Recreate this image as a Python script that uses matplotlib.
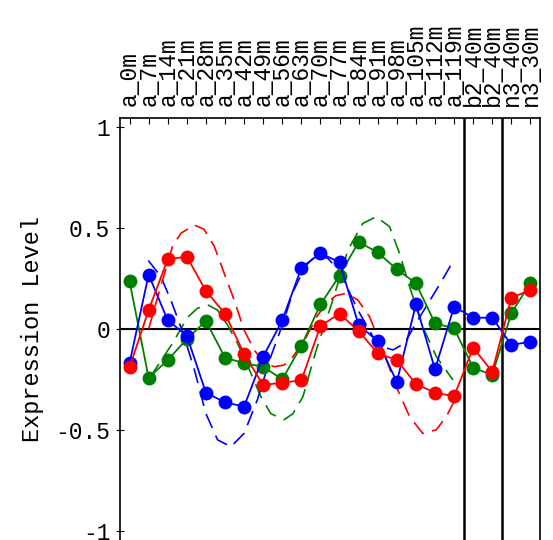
# expression level plot of three clusters with fitted curves
import matplotlib
matplotlib.use('Agg')
import matplotlib.pyplot as plt

plt.rcParams['font.family'] = ['Liberation Mono', 'DejaVu Sans Mono']
plt.rcParams['lines.scale_dashes'] = False

sampleLabels = ['a_0m', 'a_7m', 'a_14m', 'a_21m', 'a_28m', 'a_35m', 'a_42m', 'a_49m',
                'a_56m', 'a_63m', 'a_70m', 'a_77m', 'a_84m', 'a_91m', 'a_98m', 'a_105m',
                'a_112m', 'a_119m', 'b2_40m', 'b2_40m', 'n3_40m', 'n3_30m']

blueLevels = [-0.17, 0.27, 0.043, -0.033, -0.316, -0.364, -0.385, -0.137, 0.043, 0.304, 0.376,
              0.331, 0.02, -0.06, -0.263, 0.122, -0.2, 0.111, 0.056, 0.056, -0.079, -0.063]
redLevels = [-0.19, 0.094, 0.346, 0.359, 0.189, 0.076, -0.124, -0.278, -0.266, -0.255, 0.015,
             0.076, -0.01, -0.121, -0.154, -0.273, -0.316, -0.334, -0.093, -0.212, 0.155, 0.194]
greenLevels = [0.237, -0.242, -0.154, -0.05, 0.04, -0.142, -0.17, -0.187, -0.25, -0.083, 0.122,
               0.265, 0.432, 0.38, 0.296, 0.227, 0.028, 0.003, -0.192, -0.228, 0.078, 0.23]

# fitted curves (x in sample index units)
blueFitX = [0.98, 1.64, 2.16, 2.78, 3.39, 4.0, 4.61, 5.31, 6.0, 6.7, 7.4, 8.1, 8.54, 9.2, 9.8,
            10.4, 11.0, 11.96, 12.75, 13.3, 13.8, 14.4, 15.0, 16.07, 16.94]
blueFitY = [0.34, 0.26, 0.144, -0.013, -0.2, -0.42, -0.55, -0.584, -0.518, -0.35, -0.137, 0.045,
            0.18, 0.31, 0.37, 0.35, 0.284, 0.094, -0.038, -0.09, -0.104, -0.071, 0.028, 0.194, 0.334]
redFitX = [1.0, 1.6, 2.25, 2.69, 3.39, 3.9, 4.44, 4.96, 5.48, 6.0, 6.53, 7.06, 7.58, 8.1, 8.56,
           9.2, 9.8, 10.3, 10.8, 11.35, 11.96, 12.57, 13.27, 13.97, 14.67, 15.36, 16.07, 16.59, 17.0]
redFitY = [0.0, 0.2, 0.41, 0.475, 0.516, 0.495, 0.41, 0.276, 0.144, -0.005, -0.104, -0.17, -0.187,
           -0.179, -0.137, -0.05, 0.06, 0.127, 0.165, 0.177, 0.144, 0.061, -0.104, -0.286, -0.435,
           -0.518, -0.5, -0.435, -0.36]
greenFitX = [1.1, 1.7, 2.25, 3.04, 3.56, 4.09, 4.61, 5.13, 5.66, 6.36, 6.88, 7.4, 8.1, 8.56, 9.08,
             9.78, 10.65, 11.44, 12.22, 12.92, 13.62, 14.14, 14.67, 15.36, 16.07, 16.94]
greenFitY = [-0.237, -0.15, -0.071, 0.058, 0.103, 0.12, 0.094, 0.02, -0.071, -0.22, -0.336, -0.42,
             -0.45, -0.42, -0.336, -0.104, 0.144, 0.392, 0.524, 0.557, 0.508, 0.375, 0.21, 0.011,
             -0.137, -0.253]

yTicks = [-1, -0.5, 0, 0.5, 1]
yTickLabels = ['-1', '-0.5', '0', '0.5', '1']
groupBreaks = [17.5, 19.5]

fig = plt.figure(figsize=(5.53, 5.40), dpi=100)
ax = fig.add_axes([120 / 553, 0.0, 420 / 553, 422 / 540])

xPos = list(range(len(sampleLabels)))

ax.axhline(0, color='black', lw=1.5, zorder=1)
for b in groupBreaks:
    ax.axvline(b, color='black', lw=1.8, zorder=1)

series = [(greenLevels, greenFitX, greenFitY, 'green'),
          (blueLevels, blueFitX, blueFitY, 'blue'),
          (redLevels, redFitX, redFitY, 'red')]
for levels, fx, fy, col in series:
    ax.plot(fx, fy, color=col, lw=1.2, dashes=(11, 6), zorder=2)
    ax.plot(xPos, levels, color=col, lw=1.3, marker='o', markersize=10,
            markeredgewidth=0, zorder=3)

ax.set_xlim(-0.5, 21.5)
ax.set_ylim(-1.047, 1.047)

ax.xaxis.tick_top()
ax.set_xticks(xPos)
ax.set_xticklabels(sampleLabels, rotation=90, fontsize=16.5)
ax.tick_params(axis='x', direction='in', length=4, pad=9)

ax.set_yticks(yTicks)
ax.set_yticklabels(yTickLabels, fontsize=16.5)
ax.tick_params(axis='y', direction='inout', length=6, pad=4)
ax.set_ylabel('Expression Level', fontsize=17, labelpad=8)

ax.spines['bottom'].set_visible(False)
for s in ['left', 'top', 'right']:
    ax.spines[s].set_linewidth(1.2)

fig.savefig('out.png', dpi=100)
